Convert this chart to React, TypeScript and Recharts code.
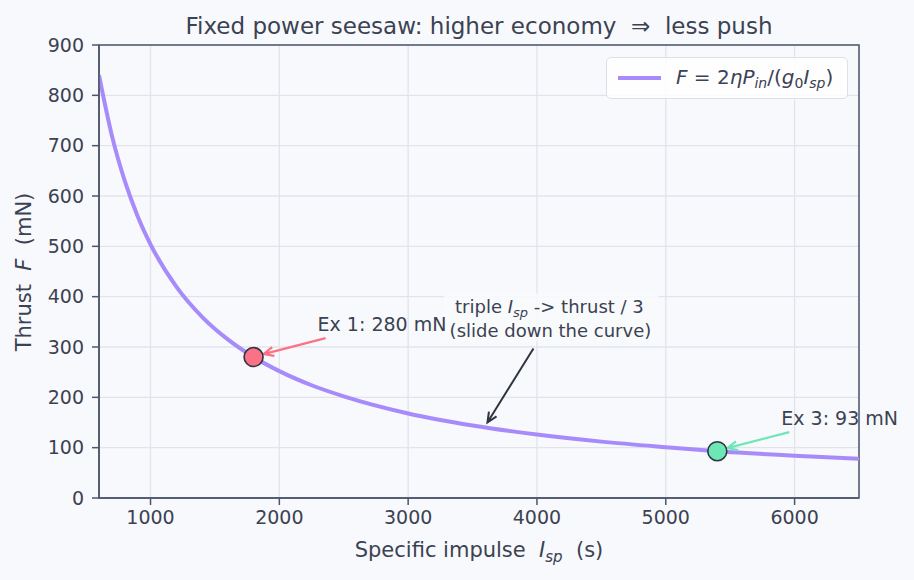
import React from "react";
import {
  CartesianGrid,
  Cell,
  ComposedChart,
  Line,
  ReferenceArea,
  ReferenceDot,
  Scatter,
  XAxis,
  YAxis,
} from "recharts";

// thrust curve sampled along specific impulse (s) -> thrust (mN)
const ispValues = [600, 700, 800, 900, 1000, 1200, 1400, 1600, 1800, 2000, 2250, 2500, 3000, 3500, 4000, 4500, 5000, 5400, 6000, 6500];
const thrustValues = [840, 720, 630, 560, 504, 420, 360, 315, 280, 252, 224, 202, 168, 144, 126, 112, 101, 93, 84, 78];

// worked examples sitting on the curve
const exampleLabels = ["Ex 1: 280 mN", "Ex 3: 93 mN"];
const exampleIsp = [1800, 5400];
const exampleThrust = [280, 93];
const exampleColors = ["#fb7185", "#6ee7b7"];

// the "slide down" note points at this spot on the curve
const slideIsp = 3600;
const slideThrust = 150;

const xTicks = [1000, 2000, 3000, 4000, 5000, 6000];
const yTicks = [0, 100, 200, 300, 400, 500, 600, 700, 800, 900];

const curve = ispValues.map((isp, i) => ({ isp, thrust: thrustValues[i] }));
const examples = exampleIsp.map((isp, i) => ({ isp, thrust: exampleThrust[i], label: exampleLabels[i] }));

const BG = "#f8f9fc";
const INK = "#3b4252";
const AXIS = "#4c566a";
const FONT = '"DejaVu Sans", Verdana, sans-serif';

// open "->" arrow from tail to head
const arrowPath = (x1: number, y1: number, x2: number, y2: number) => {
  const a = Math.atan2(y2 - y1, x2 - x1);
  const len = 11;
  const spread = 0.42;
  const ax = x2 - len * Math.cos(a - spread);
  const ay = y2 - len * Math.sin(a - spread);
  const bx = x2 - len * Math.cos(a + spread);
  const by = y2 - len * Math.sin(a + spread);
  return `M${x1},${y1} L${x2},${y2} M${ax},${ay} L${x2},${y2} L${bx},${by}`;
};

const exampleCallout = (label: string, color: string) => (props: any) => {
  const { cx, cy } = props;
  return (
    <g>
      <path d={arrowPath(cx + 72, cy - 19, cx + 10, cy - 3)} stroke={color} strokeWidth={2.2} fill="none" />
      <text x={cx + 64} y={cy - 33} dy="0.35em" fill={INK} fontSize={19} fontFamily={FONT}>
        {label}
      </text>
    </g>
  );
};

const slideCallout = (props: any) => {
  const { cx, cy } = props;
  return (
    <g>
      <rect x={cx - 42} y={cy - 129} width={215} height={48} rx={4} fill={BG} fillOpacity={0.9} />
      <text x={cx + 64} y={cy - 116} dy="0.35em" textAnchor="middle" fill={INK} fontSize={18} fontFamily={FONT}>
        triple <tspan fontStyle="italic">I</tspan>
        <tspan fontStyle="italic" fontSize={13} dy={4}>sp</tspan>
        <tspan dy={-4}> -&gt; thrust / 3</tspan>
      </text>
      <text x={cx + 65} y={cy - 92} dy="0.35em" textAnchor="middle" fill={INK} fontSize={18} fontFamily={FONT}>
        (slide down the curve)
      </text>
      <path d={arrowPath(cx + 48, cy - 74, cx + 2, cy)} stroke="#2e3440" strokeWidth={2} fill="none" />
    </g>
  );
};

const Marker = (props: any) => (
  <circle cx={props.cx} cy={props.cy} r={9.5} fill={props.fill} stroke="#2e3440" strokeWidth={1.6} />
);

const subStyle = (italic: boolean, size: number): React.CSSProperties => ({
  fontSize: size,
  fontStyle: italic ? "italic" : "normal",
  verticalAlign: "-0.3em",
  lineHeight: 0,
});

export default function App() {
  return (
    <div style={{ position: "absolute", left: 0, top: 0, width: 914, height: 580, background: BG, fontFamily: FONT, color: INK }}>
      <ComposedChart width={914} height={580} data={curve} margin={{ top: 45, right: 55, left: 0, bottom: 0 }}>
        <CartesianGrid stroke="#e2e4ec" strokeWidth={1.3} />
        <XAxis
          type="number"
          dataKey="isp"
          domain={[600, 6500]}
          ticks={xTicks}
          allowDataOverflow
          height={82}
          tickSize={7}
          tickMargin={6}
          stroke={AXIS}
          strokeWidth={1.5}
          tick={{ fill: INK, fontSize: 19, fontFamily: FONT }}
        />
        <YAxis
          type="number"
          domain={[0, 900]}
          ticks={yTicks}
          allowDataOverflow
          width={99}
          tickSize={7}
          tickMargin={8}
          stroke={AXIS}
          strokeWidth={1.5}
          tick={{ fill: INK, fontSize: 19, fontFamily: FONT }}
        />
        <ReferenceArea x1={600} x2={6500} y1={0} y2={900} fill="none" stroke={AXIS} strokeWidth={1.5} ifOverflow="visible" />
        <Line
          type="monotone"
          dataKey="thrust"
          stroke="#a78bfa"
          strokeWidth={4}
          dot={false}
          activeDot={false}
          isAnimationActive={false}
        />
        <ReferenceDot x={slideIsp} y={slideThrust} r={0} shape={slideCallout} ifOverflow="visible" />
        {examples.map((e, i) => (
          <ReferenceDot
            key={e.label}
            x={e.isp}
            y={e.thrust}
            r={0}
            shape={exampleCallout(e.label, exampleColors[i])}
            ifOverflow="visible"
          />
        ))}
        <Scatter data={examples} dataKey="thrust" shape={Marker} isAnimationActive={false}>
          {examples.map((e, i) => (
            <Cell key={e.label} fill={exampleColors[i]} />
          ))}
        </Scatter>
      </ComposedChart>

      {/* title */}
      <div style={{ position: "absolute", left: 99, width: 760, top: 12, textAlign: "center", fontSize: 23, lineHeight: "29px", whiteSpace: "nowrap" }}>
        Fixed power seesaw: higher economy &nbsp;⇒&nbsp; less push
      </div>

      {/* axis titles */}
      <div style={{ position: "absolute", left: 99, width: 760, top: 536, textAlign: "center", fontSize: 21, lineHeight: "29px", whiteSpace: "nowrap" }}>
        Specific impulse&nbsp; <i>I</i>
        <sub style={subStyle(true, 15)}>sp</sub>&nbsp; (s)
      </div>
      <div
        style={{
          position: "absolute",
          left: 24,
          top: 272,
          transform: "translate(-50%, -50%) rotate(-90deg)",
          fontSize: 21,
          lineHeight: "29px",
          whiteSpace: "nowrap",
        }}
      >
        Thrust&nbsp; <i>F</i>&nbsp; (mN)
      </div>

      {/* legend */}
      <div
        style={{
          position: "absolute",
          left: 606,
          top: 57,
          width: 242,
          height: 42,
          boxSizing: "border-box",
          border: "1px solid #dde0e8",
          borderRadius: 5,
          background: "rgba(255,255,255,0.85)",
        }}
      >
        <div style={{ position: "absolute", left: 11, top: 18, width: 43, height: 4, background: "#a78bfa" }} />
        <div style={{ position: "absolute", left: 69, top: 5, fontSize: 20, lineHeight: "28px", whiteSpace: "nowrap" }}>
          <i>F</i> = 2<i>ηP</i>
          <sub style={subStyle(true, 14)}>in</sub>/(<i>g</i>
          <sub style={subStyle(false, 14)}>0</sub>
          <i>I</i>
          <sub style={subStyle(true, 14)}>sp</sub>)
        </div>
      </div>
    </div>
  );
}
